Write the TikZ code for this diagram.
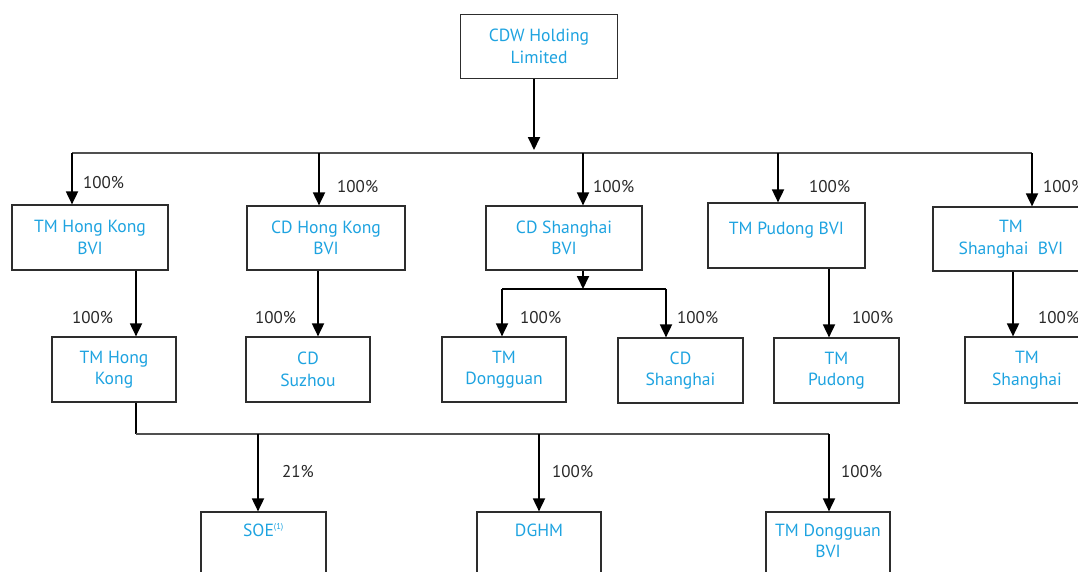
\documentclass[tikz,border=0pt]{standalone}
\usepackage{fontspec}
\setmainfont{PT Sans}
\usetikzlibrary{arrows.meta}
\definecolor{txtblue}{RGB}{30,163,224}
\definecolor{pctgray}{RGB}{40,40,40}
\definecolor{boxline}{RGB}{45,45,45}
\definecolor{busline}{RGB}{80,80,80}
\begin{document}
\begin{tikzpicture}[x=1pt,y=-1pt,
  box/.style={draw=boxline, line width=1.2pt, text=txtblue, align=center,
    font=\fontsize{17.6}{21.5}\selectfont, inner sep=0pt},
  boxtext/.style={text=txtblue, align=center, font=\fontsize{17.6}{21.5}\selectfont, inner sep=0pt},
  pct/.style={anchor=west, text=pctgray, font=\fontsize{17}{19}\selectfont, inner sep=0pt},
  arr/.style={draw=black, line width=1.8pt, -{Triangle[width=12pt,length=13pt]}},
  busl/.style={draw=busline, line width=1.4pt},
]
\useasboundingbox (0,0) rectangle (1078,571);

% top
\node[box, minimum width=157pt, minimum height=64pt] (cdw) at (539,46.5) {CDW Holding\\Limited};

% row 2
\node[box, minimum width=156pt, minimum height=65pt] (hkbvi) at (90,237.5) {TM Hong Kong\\BVI};
\node[box, minimum width=158pt, minimum height=64pt] (cdhkbvi) at (326,238) {CD Hong Kong\\BVI};
\node[box, minimum width=156pt, minimum height=64pt] (cdshbvi) at (564,238) {CD Shanghai\\BVI};
\node[box, minimum width=157pt, minimum height=65pt] (pdbvi) at (786.5,235.5) {TM Pudong BVI\\[-8pt]~};
\node[box, minimum width=156pt, minimum height=64pt] (shbvi) at (1011,239) {TM\\Shanghai~~BVI};

% row 3
\node[box, minimum width=124pt, minimum height=65pt] (tmhk) at (114,369.5) {TM Hong\\Kong};
\node[box, minimum width=124pt, minimum height=65pt] (cdsz) at (308,369.5) {CD\\Suzhou};
\node[box, minimum width=124pt, minimum height=65pt] (tmdg) at (504,369.5) {TM\\Dongguan};
\node[box, minimum width=125pt, minimum height=65pt] (cdsh) at (680.5,370.5) {CD\\Shanghai};
\node[box, minimum width=125pt, minimum height=65pt] (tmpd) at (836.5,370.5) {TM\\Pudong};
\node[box, minimum width=124pt, minimum height=66pt] (tmsh) at (1027,370) {TM\\Shanghai};

% row 4
\node[box, minimum width=125pt, minimum height=90pt,
  label={[boxtext, anchor=north, yshift=-12pt]north:SOE\textsuperscript{\fontsize{8.5}{9}\selectfont(1)}}] (soe) at (263.5,557) {};
\node[box, minimum width=124pt, minimum height=90pt,
  label={[boxtext, anchor=north, yshift=-12pt]north:DGHM}] (dghm) at (539,557) {};
\node[box, minimum width=124pt, minimum height=90pt,
  label={[boxtext, anchor=north, yshift=-12pt]north:TM Dongguan\\BVI}] (tmdgbvi) at (828,557) {};

% top to bus
\coordinate (b0) at (534,153);
\coordinate (b0tip) at (534,150);
\draw[arr] (b0 |- cdw.south) -- (b0tip);
\coordinate (bL) at (72,153);
\coordinate (d2) at (319,153);
\coordinate (d3) at (583,153);
\coordinate (d4) at (778,153);
\coordinate (bR) at (1032,153);
\draw[busl] (bL) -- (bR);
\draw[arr] (bL) -- (bL |- hkbvi.north);
\draw[arr] (d2) -- (d2 |- cdhkbvi.north);
\draw[arr] (d3) -- (d3 |- cdshbvi.north);
\draw[arr] (d4) -- (d4 |- pdbvi.north);
\draw[arr] (bR) -- (bR |- shbvi.north);

\node[pct] (p1) at (83,183) {100\%};
\node[pct] (p2) at (337,187) {100\%};
\node[pct] (p3) at (593,187) {100\%};
\node[pct] (p4) at (809,187) {100\%};
\node[pct] (p5) at (1043,187) {100\%};

% row 2 to row 3
\coordinate (e1) at (136,300);
\coordinate (e2) at (318,300);
\coordinate (e4) at (829,300);
\coordinate (e5) at (1013,300);
\draw[arr] (e1 |- hkbvi.south) -- (e1 |- tmhk.north);
\draw[arr] (e2 |- cdhkbvi.south) -- (e2 |- cdsz.north);
\draw[arr] (e4 |- pdbvi.south) -- (e4 |- tmpd.north);
\draw[arr] (e5 |- shbvi.south) -- (e5 |- tmsh.north);

\coordinate (s0) at (583,289);
\coordinate (sL) at (502,289);
\coordinate (sR) at (666,289);
\draw[arr] (s0 |- cdshbvi.south) -- (s0);
\draw[draw=black, line width=1.4pt] (sL) -- (sR);
\draw[arr] (sL) -- (sL |- tmdg.north);
\draw[arr] (sR) -- (sR |- cdsh.north);

\node[pct] (q1) at (72,318) {100\%};
\node[pct] (q2) at (255,318) {100\%};
\node[pct] (q3) at (520,318) {100\%};
\node[pct] (q4) at (677,318) {100\%};
\node[pct] (q5) at (852,318) {100\%};
\node[pct] (q6) at (1038,318) {100\%};

% row 3 to row 4
\coordinate (c0) at (136,434);
\coordinate (c1) at (258,434);
\coordinate (c2) at (539,434);
\coordinate (cR) at (829,434);
\draw[draw=black, line width=1.2pt] (c0 |- tmhk.south) -- (c0);
\draw[busl] (c0) -- (cR);
\draw[arr] (c1) -- (c1 |- soe.north);
\draw[arr] (c2) -- (c2 |- dghm.north);
\draw[arr] (cR) -- (cR |- tmdgbvi.north);

\node[pct] (r1) at (282,472) {21\%};
\node[pct] (r2) at (552,472) {100\%};
\node[pct] (r3) at (841,472) {100\%};
\end{tikzpicture}
\end{document}
